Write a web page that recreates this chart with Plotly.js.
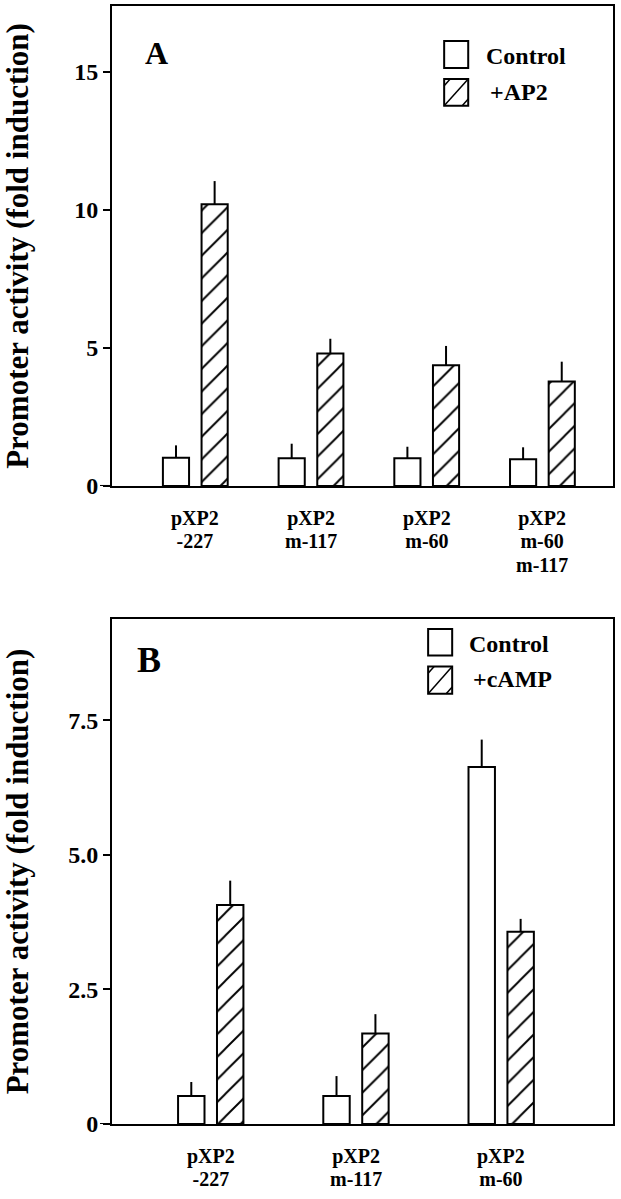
<!DOCTYPE html>
<html>
<head>
<meta charset="utf-8">
<script src="https://cdn.plot.ly/plotly-3.0.1.min.js"></script>
<style>html,body{margin:0;padding:0;background:#fff;}</style>
</head>
<body>
<div id="chart" style="width:621px;height:1199px;"></div>
<script>
// Panel A data
var catsA = ["pXP2<br>-227", "pXP2<br>m-117", "pXP2<br>m-60", "pXP2<br>m-60<br>m-117"];
var ctrlA = [1.02, 1.0, 1.0, 0.97];
var ctrlErrA = [0.45, 0.53, 0.42, 0.43];
var ap2A = [10.2, 4.8, 4.37, 3.78];
var ap2ErrA = [0.84, 0.53, 0.7, 0.72];
var namesA = ["Control", "+AP2"];
var ticksA = [0, 5, 10, 15];
var tickTextA = ["0", "5", "10", "15"];

// Panel B data
var catsB = ["pXP2<br>-227", "pXP2<br>m-117", "pXP2<br>m-60"];
var ctrlB = [0.52, 0.52, 6.63];
var ctrlErrB = [0.26, 0.37, 0.51];
var campB = [4.07, 1.68, 3.57];
var campErrB = [0.45, 0.36, 0.24];
var namesB = ["Control", "+cAMP"];
var ticksB = [0, 2.5, 5.0, 7.5];
var tickTextB = ["0", "2.5", "5.0", "7.5"];

var yTitle = "Promoter activity (fold induction)";

function zeros(n){ var a=[]; for(var i=0;i<n;i++) a.push(0); return a; }

var plain = {color:'white', line:{color:'black', width:2}};
var hatch = {color:'white', line:{color:'black', width:2},
  pattern:{shape:'/', fgcolor:'black', bgcolor:'white', size:16, solidity:0.12}};
function err(arr){ return {type:'data', symmetric:false, array:arr, arrayminus:zeros(arr.length), color:'black', thickness:2, width:0}; }

var traces = [
  {type:'bar', name:namesA[0], x:catsA, y:ctrlA, width:0.226, offset:-0.28, marker:plain, error_y:err(ctrlErrA), xaxis:'x', yaxis:'y', showlegend:false},
  {type:'bar', name:namesA[1], x:catsA, y:ap2A, width:0.226, offset:0.054, marker:hatch, error_y:err(ap2ErrA), xaxis:'x', yaxis:'y', showlegend:false},
  {type:'bar', name:namesB[0], x:catsB, y:ctrlB, width:0.182, offset:-0.225, marker:plain, error_y:err(ctrlErrB), xaxis:'x2', yaxis:'y2', showlegend:false},
  {type:'bar', name:namesB[1], x:catsB, y:campB, width:0.182, offset:0.043, marker:hatch, error_y:err(campErrB), xaxis:'x2', yaxis:'y2', showlegend:false}
];

var F = {family:'Liberation Serif', weight:'bold', color:'black'};
function font(s){ return {family:F.family, weight:'bold', color:'black', size:s}; }

var baseX = {showline:true, mirror:true, linewidth:2, linecolor:'black', ticks:'', showgrid:false, zeroline:false,
  type:'category', showticklabels:false, fixedrange:true};
var baseY = {showline:true, mirror:true, linewidth:2, linecolor:'black', ticks:'outside', ticklen:7, tickwidth:2, tickcolor:'black',
  showgrid:false, zeroline:false, tickfont:font(24), fixedrange:true,
  title:{text:yTitle, font:font(31), standoff:36}};

var layout = {
  width:621, height:1199,
  margin:{l:112, r:8, t:6, b:75},
  paper_bgcolor:'white', plot_bgcolor:'white',
  font:F, showlegend:false, barmode:'overlay',
  xaxis:Object.assign({}, baseX, {domain:[0,1], anchor:'y', range:[-0.72, 3.61]}),
  yaxis:Object.assign({}, baseY, {domain:[0.5707,1], anchor:'x', range:[0,17.38], tickmode:'array', tickvals:ticksA, ticktext:tickTextA}),
  xaxis2:Object.assign({}, baseX, {domain:[0,1], anchor:'y2', range:[-0.68, 2.77]}),
  yaxis2:Object.assign({}, baseY, {domain:[0,0.4517], anchor:'x2', range:[0,9.38], tickmode:'array', tickvals:ticksB, ticktext:tickTextB}),
  shapes:[], annotations:[]
};

// category labels: one text per category, tight leading as in the original
function catLabels(cats, xr, yr){
  cats.forEach(function(c){
    var txt = c.split('<br>').map(function(l){ return '<span style="font-size:20px">' + l + '</span>'; }).join('<br>');
    layout.annotations.push({xref:xr, yref:yr, x:c, y:0, yshift:-19, text:txt, showarrow:false,
      xanchor:'center', yanchor:'top', align:'center', font:font(18)});
  });
}
catLabels(catsA, 'x', 'y domain');
catLabels(catsB, 'x2', 'y2 domain');

function legend(xr, yr, bx0, bx1, c0, c1, h0, h1, tx0, tx1, ty0, ty1, names, size){
  var L = {color:'black', width:2};
  var T = {color:'black', width:1.5};
  layout.shapes.push({type:'rect', xref:xr, yref:yr, x0:bx0, x1:bx1, y0:c1, y1:c0, line:L, fillcolor:'white'});
  layout.shapes.push({type:'rect', xref:xr, yref:yr, x0:bx0, x1:bx1, y0:h1, y1:h0, line:L, fillcolor:'white'});
  var w = bx1-bx0, h = h0-h1;
  layout.shapes.push({type:'line', xref:xr, yref:yr, x0:bx0, y0:h1, x1:bx1, y1:h0, line:T});
  layout.shapes.push({type:'line', xref:xr, yref:yr, x0:bx0, y0:h0-0.25*h, x1:bx0+0.25*w, y1:h0, line:T});
  layout.shapes.push({type:'line', xref:xr, yref:yr, x0:bx1-0.25*w, y0:h1, x1:bx1, y1:h1+0.25*h, line:T});
  layout.annotations.push({xref:xr, yref:yr, x:tx0, y:ty0, text:names[0], showarrow:false, xanchor:'left', yanchor:'middle', font:font(size)});
  layout.annotations.push({xref:xr, yref:yr, x:tx1, y:ty1, text:names[1], showarrow:false, xanchor:'left', yanchor:'middle', font:font(size)});
}
legend('x domain','y domain', 0.663, 0.711, 0.927, 0.871, 0.848, 0.792, 0.7425, 0.7505, 0.896, 0.821, namesA, 24);
legend('x2 domain','y2 domain', 0.631, 0.679, 0.980, 0.9275, 0.906, 0.852, 0.709, 0.717, 0.9505, 0.881, namesB, 24);

// panel letters
layout.annotations.push({xref:'x domain', yref:'y domain', x:0.0898, y:0.902, text:'A', showarrow:false, xanchor:'center', yanchor:'middle', font:font(32)});
layout.annotations.push({xref:'x2 domain', yref:'y2 domain', x:0.074, y:0.919, text:'B', showarrow:false, xanchor:'center', yanchor:'middle', font:font(36)});

// extended zero ticks
layout.shapes.push({type:'line', xref:'x domain', yref:'y', x0:-0.024, x1:0, y0:0, y1:0, line:{color:'black', width:2}});
layout.shapes.push({type:'line', xref:'x2 domain', yref:'y2', x0:-0.024, x1:0, y0:0, y1:0, line:{color:'black', width:2}});

Plotly.newPlot('chart', traces, layout, {staticPlot:true, displayModeBar:false});
</script>
</body>
</html>
